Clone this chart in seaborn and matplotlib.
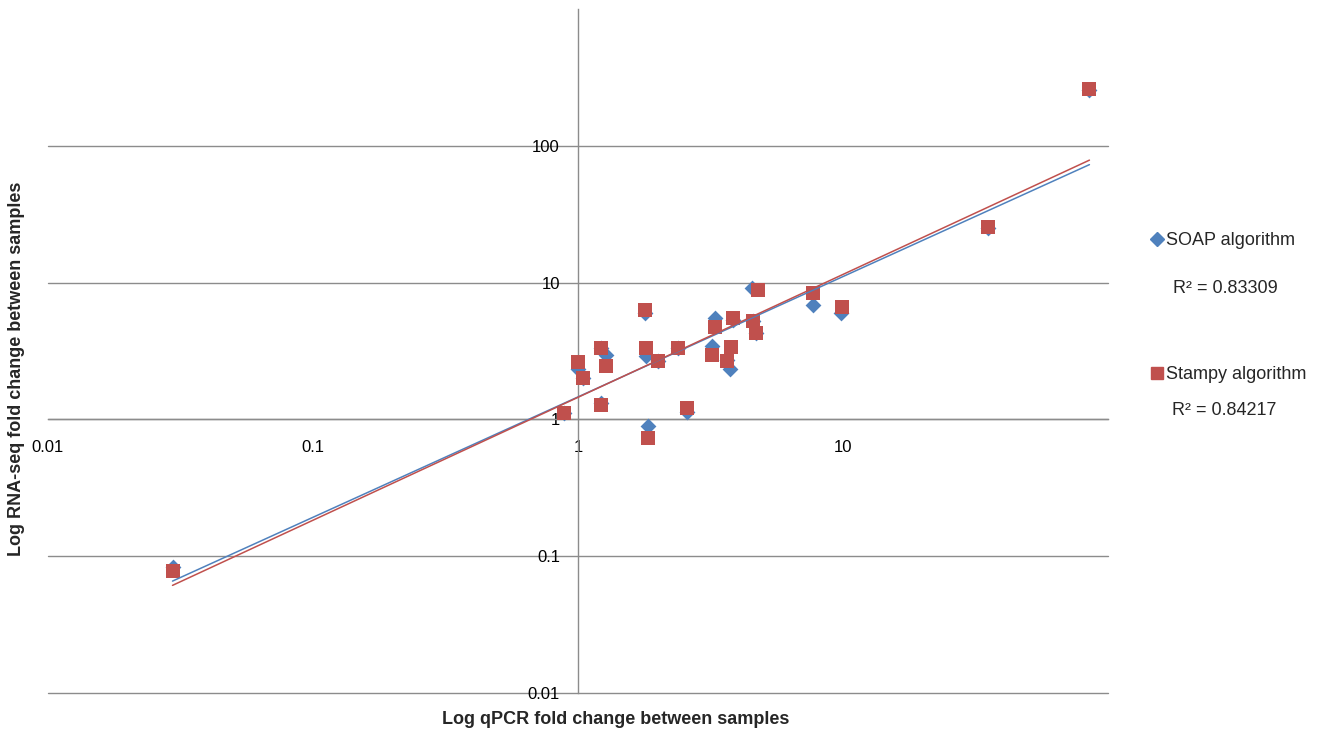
import numpy as np
import pandas as pd
import seaborn as sns
import matplotlib.pyplot as plt
from matplotlib.lines import Line2D

SOAP_Blue = '#4F81BD'
Stampy_Red = '#C0504D'
Axis_Grey = '#8C8C8C'

# qPCR fold change (x) and RNA-seq fold change (y)
qpcr_fc = [0.0295, 0.885, 1.0, 1.04, 1.22, 1.27, 1.22, 1.79, 1.80, 1.84, 2.0, 2.39, 2.57,
           3.21, 3.28, 3.64, 3.77, 3.85, 4.56, 4.69, 4.76, 7.71, 9.89, 35.1, 85.1]
soap_qpcr_fc = [0.0295, 0.885, 1.0, 1.04, 1.22, 1.27, 1.22, 1.79, 1.80, 1.84, 2.0, 2.39, 2.57,
                3.21, 3.28, 3.64, 3.74, 3.85, 4.56, 4.69, 4.55, 7.71, 9.85, 35.1, 85.1]
soap_fc = [0.083, 1.12, 2.35, 2.02, 3.30, 2.98, 1.32, 6.0, 2.9, 0.9, 2.66, 3.34, 1.13,
           3.43, 5.55, 2.7, 2.32, 5.3, 5.22, 4.3, 9.15, 6.9, 5.95, 25.0, 255.0]
stampy_fc = [0.0778, 1.12, 2.62, 2.02, 3.34, 2.45, 1.27, 6.35, 3.34, 0.735, 2.66, 3.34, 1.22,
             2.98, 4.75, 2.66, 3.40, 5.53, 5.22, 4.30, 8.89, 8.41, 6.68, 25.6, 261.0]

series_names = ['SOAP algorithm', 'Stampy algorithm']
r_squared = ['0.83309', '0.84217']

x_ticks = [0.01, 0.1, 1, 10]
x_ticklabels = ['0.01', '0.1', '1', '10']
y_ticks = [0.01, 0.1, 1, 10, 100]
y_ticklabels = ['0.01', '0.1', '1', '10', '100']

sns.set_style("white")
plt.rcParams['font.family'] = ['Liberation Sans', 'DejaVu Sans']

soap = pd.DataFrame({'qpcr': soap_qpcr_fc, 'rnaseq': soap_fc})
stampy = pd.DataFrame({'qpcr': qpcr_fc, 'rnaseq': stampy_fc})


def power_fit(df):
    # Excel style power trendline = straight line in log-log space
    slope, icpt = np.polyfit(np.log10(df['qpcr']), np.log10(df['rnaseq']), 1)
    xs = np.array([df['qpcr'].min(), df['qpcr'].max()])
    return xs, 10 ** (icpt + slope * np.log10(xs))


fig = plt.figure(figsize=(13.27, 7.33), dpi=100)
ax = fig.add_axes([48 / 1327, 1 - 693 / 733, 1060 / 1327, 684 / 733])

sns.scatterplot(data=soap, x='qpcr', y='rnaseq', marker='D', s=65, color=SOAP_Blue,
                linewidth=0, ax=ax, zorder=3)
sns.scatterplot(data=stampy, x='qpcr', y='rnaseq', marker='s', s=110, color=Stampy_Red,
                linewidth=0, ax=ax, zorder=4)

for df, col in [(soap, SOAP_Blue), (stampy, Stampy_Red)]:
    xs, ys = power_fit(df)
    ax.plot(xs, ys, color=col, lw=1.1, zorder=5)

ax.set_xscale('log')
ax.set_yscale('log')
ax.set_xlim(0.01, 100)
ax.set_ylim(0.01, 1000)

ax.set_xticks(x_ticks)
ax.set_xticklabels(x_ticklabels)
ax.set_yticks(y_ticks)
ax.set_yticklabels(y_ticklabels)
ax.minorticks_off()
ax.tick_params(axis='x', direction='out', length=4, width=0.8, color=Axis_Grey, pad=10.5,
               labelsize=12, labelcolor='black')
ax.tick_params(axis='y', length=0, pad=13, labelsize=12, labelcolor='black')

ax.spines['top'].set_visible(False)
ax.spines['right'].set_visible(False)
ax.spines['left'].set_position(('data', 1))
ax.spines['bottom'].set_position(('data', 1))
for sp in ['left', 'bottom']:
    ax.spines[sp].set_color(Axis_Grey)
    ax.spines[sp].set_linewidth(1.0)

ax.grid(False)
ax.yaxis.grid(True, color=Axis_Grey, lw=1.0)
for gl in ax.get_ygridlines():
    gl.set_clip_on(False)
ax.set_xlabel('')
ax.set_ylabel('')

fig.text(17 / 1327, 1 - 369 / 733, 'Log RNA-seq fold change between samples', rotation=90,
         ha='center', va='center', fontsize=13, fontweight='bold')
fig.text(616 / 1327, 1 - 720 / 733, 'Log qPCR fold change between samples',
         ha='center', va='center', fontsize=13, fontweight='bold')

handles = [Line2D([], [], marker='D', color=SOAP_Blue, linestyle='', markersize=7),
           Line2D([], [], marker='s', color=Stampy_Red, linestyle='', markersize=9)]
ax.legend(handles, series_names, loc='upper left', bbox_to_anchor=(1151 / 1327, 1 - 232 / 733),
          bbox_transform=fig.transFigure, frameon=False, fontsize=13, handlelength=0.7,
          handletextpad=0.15, labelspacing=6.5, borderaxespad=0, borderpad=0)

fig.text(1173 / 1327, 1 - 289 / 733, f'R² = {r_squared[0]}', ha='left', va='center', fontsize=13)
fig.text(1172 / 1327, 1 - 410 / 733, f'R² = {r_squared[1]}', ha='left', va='center', fontsize=13)

plt.savefig('out.png', dpi=100)
